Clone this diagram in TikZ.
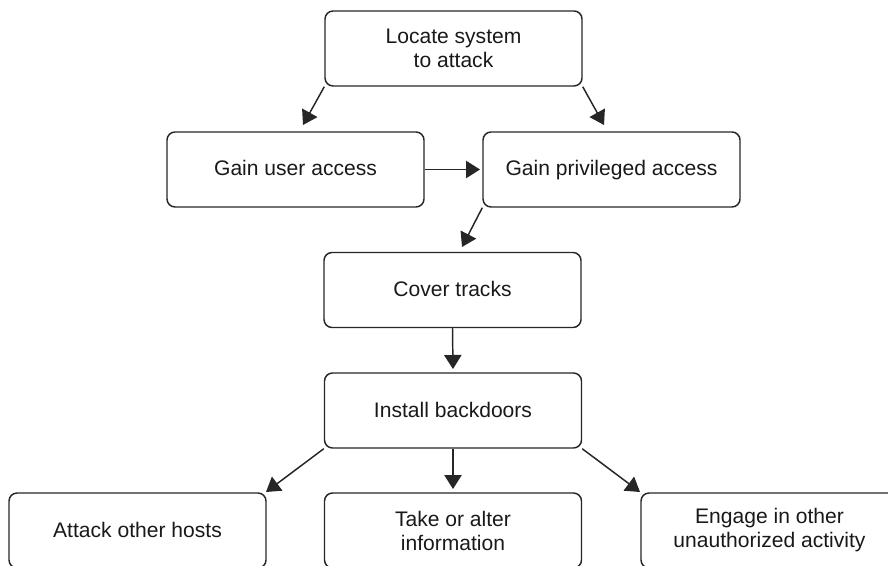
\documentclass[tikz,border=0pt]{standalone}
\usepackage{fontspec}
\setmainfont{Liberation Sans}
\usetikzlibrary{arrows.meta}

\begin{document}
\begin{tikzpicture}[x=0.75pt,y=-0.75pt,
  stage/.style={draw=black!85, line width=1.1pt, rounded corners=6pt,
    minimum width=192.75pt, minimum height=56.25pt, inner sep=0pt,
    align=center, text=black!90,
    font=\fontsize{15.8}{18}\selectfont},
  oneline/.style={stage, text height=11.5pt, text depth=1.75pt},
  flow/.style={draw=black!85, line width=1.1pt,
    -{Triangle[length=10.5pt,width=13pt]}}
]
\useasboundingbox (0,0) rectangle (888,566);

% stages of the intrusion
\node[stage]   (locate)  at (453.5,48.5)  {Locate system\\to attack};
\node[oneline] (user)    at (295.5,169.5) {Gain user access};
\node[oneline] (priv)    at (611.5,169.5) {Gain privileged access};
\node[oneline] (cover)   at (452.5,290)   {Cover tracks};
\node[oneline] (install) at (453,410.5)   {Install backdoors};
\node[oneline] (attack)  at (137.5,530.5) {Attack other hosts};
\node[stage]   (take)    at (453,530.5)   {Take or alter\\information};
\node[stage]   (engage)  at (769.5,530.5) {Engage in other\\unauthorized activity};

% arrow tips stop just short of the boxes
\coordinate (tUser)   at (303,125);
\coordinate (tPriv)   at (604,125);
\coordinate (tSide)   at (480,169.5);
\coordinate (tCover)  at (462,247);
\coordinate (tInst)   at (453,369);
\coordinate (tTake)   at (453,489);
\coordinate (tAttack) at (266,492);
\coordinate (tEngage) at (640,492);

\draw[flow] (locate.south west) -- (tUser);
\draw[flow] (locate.south east) -- (tPriv);
\draw[flow] (user.east) -- (tSide);
\draw[flow] (priv.south west) -- (tCover);
\draw[flow] (cover.south) -- (tInst);
\draw[flow] (install.south) -- (tTake);
\draw[flow] (install.south west) -- (tAttack);
\draw[flow] (install.south east) -- (tEngage);
\end{tikzpicture}
\end{document}
